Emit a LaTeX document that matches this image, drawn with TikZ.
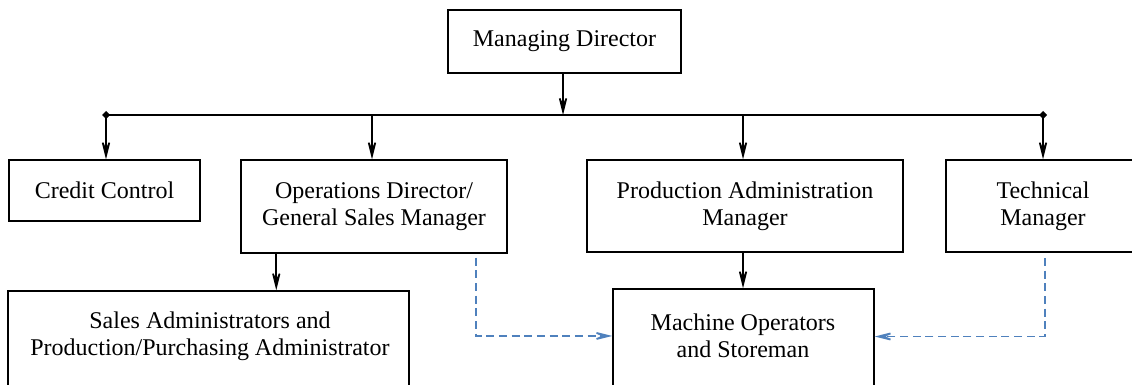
\documentclass[tikz,border=0pt]{standalone}
\usepackage{fontspec}
\setmainfont{Liberation Serif}
\usetikzlibrary{arrows.meta}
\definecolor{linkblue}{HTML}{4F81BD}
\begin{document}
\begin{tikzpicture}[x=0.75pt, y=-0.75pt,
  box/.style={draw, line width=1.1pt, inner sep=0pt, align=center,
              font=\rmfamily\fontsize{18}{20.5}\selectfont},
  caption/.style={inner sep=0pt, align=center, font=\rmfamily\fontsize{18}{20.5}\selectfont},
  link/.style={line width=1.2pt},
  headed/.style={line width=1.2pt, arrows={-Stealth[length=20pt, width=10pt, inset=12pt]}},
  dashlink/.style={line width=1.3pt, draw=linkblue, dash pattern=on 6pt off 3.5pt,
                   arrows={-Stealth[length=20pt, width=10pt, inset=12pt, linkblue]}},
  junction/.style={fill, line width=0pt}
]
\useasboundingbox (0,0) rectangle (1132,385);
\clip (0,0) rectangle (1132,385);

% boxes
\node[box, minimum width=174.75pt, minimum height=47.25pt] (md) at (564.5,41.5) {Managing Director};
\node[box, minimum width=143.25pt, minimum height=45.75pt] (cc) at (104.5,190.5) {Credit Control};
\node[box, minimum width=199.5pt, minimum height=69.75pt] (ops) at (374,206.5) {Operations Director/\\General Sales Manager};
\node[box, minimum width=237pt, minimum height=69pt] (pam) at (745,206) {Production Administration\\Manager};
\node[box, minimum width=145.5pt, minimum height=69pt] (tech) at (1043,206) {Technical\\Manager};
\node[box, minimum width=300.75pt, minimum height=96.75pt] (sa) at (208.5,355.5) {};
\node[caption] (satext) at (210,336) {Sales Administrators and\\Production/Purchasing Administrator};
\node[box, minimum width=195.75pt, minimum height=98.25pt] (mo) at (743.5,354.5) {};
\node[caption] (motext) at (743,336) {Machine Operators\\and Storeman};

% distribution bus
\coordinate (busL) at (106,115);
\coordinate (busR) at (1043,115);
\draw[link] (busL) -- (busR);
\fill[junction] (busL) ++(-4,0) -- ++(4,-4) -- ++(4,4) -- ++(-4,4) -- cycle;
\fill[junction] (busR) ++(-4,0) -- ++(4,-4) -- ++(4,4) -- ++(-4,4) -- cycle;

% solid reporting lines
\draw[headed] ([xshift=-1.1pt]md.south) -- ([xshift=-1.1pt]md.south |- busL);
\draw[headed] (busL) -- (busL |- cc.north);
\draw[headed] ([xshift=-1.5pt]ops.north |- busL) -- ([xshift=-1.5pt]ops.north);
\draw[headed] ([xshift=-1.5pt]pam.north |- busL) -- ([xshift=-1.5pt]pam.north);
\draw[headed] (busR) -- (busR |- tech.north);
\coordinate (opsout) at ([xshift=27pt]ops.south west);
\draw[headed] (opsout) -- (opsout |- sa.north);
\draw[headed] ([xshift=-1.5pt]pam.south) -- ([xshift=-1.5pt]pam.south |- mo.north);

% dashed functional lines
\draw[dashlink] ([xshift=-24pt, yshift=-3pt]ops.south east) |- ([yshift=13.9pt]mo.west);
\draw[dashlink] ([xshift=1.5pt, yshift=-4pt]tech.south) |- ([yshift=13.5pt]mo.east);
\end{tikzpicture}
\end{document}
